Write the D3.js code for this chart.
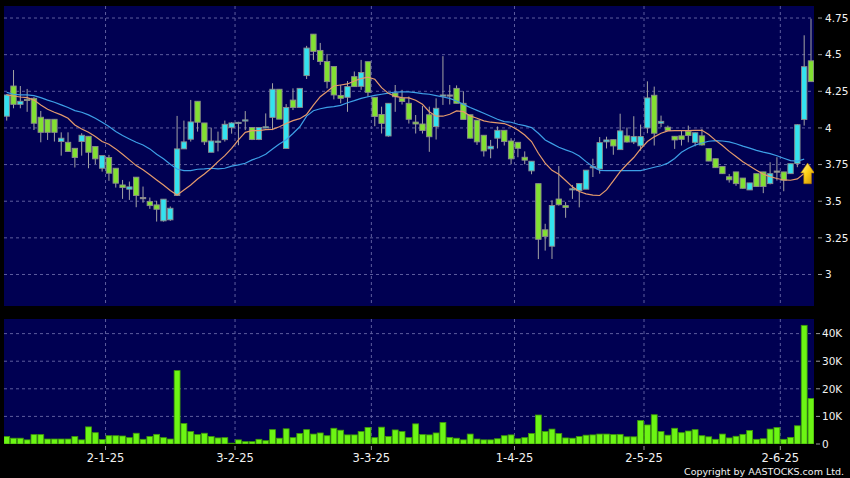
<!DOCTYPE html>
<html><head><meta charset="utf-8">
<script src="https://cdn.jsdelivr.net/npm/d3@7"></script>
<style>html,body{margin:0;padding:0;background:#000;} svg{display:block;}</style>
</head><body>
<div id="chart"></div>
<script>
// ---- data ----
const opens = [4.08,4.286,4.161,4.195,4.202,4.073,4.059,4.059,3.907,3.902,
3.861,3.907,3.943,3.873,3.725,3.798,3.725,3.611,3.582,3.664,
3.525,3.498,3.475,3.366,3.373,3.539,3.857,3.923,4.182,4.034,
3.834,3.905,3.92,4.002,4.035,4.05,4.003,3.921,4.005,4.072,
4.264,3.86,4.19,4.14,4.357,4.64,4.529,4.453,4.419,4.222,
4.209,4.35,4.284,4.452,4.209,4.092,3.945,4.238,4.203,4.168,
4.04,4.027,4.09,4.009,4.22,4.225,4.27,4.168,4.09,4.053,
3.95,3.857,3.93,3.984,3.911,3.902,3.80,3.707,3.62,3.305,
3.193,3.515,3.47,3.58,3.572,3.582,3.736,3.72,3.905,3.92,
3.852,3.946,3.904,3.878,4.0,4.223,4.032,4.005,3.943,3.946,
3.977,3.902,3.946,3.859,3.79,3.737,3.667,3.70,3.658,3.577,
3.688,3.70,3.62,3.706,3.70,3.688,3.758,4.058,4.458];
const highs = [4.23,4.395,4.286,4.266,4.21,4.116,4.06,4.06,3.97,3.97,
3.861,3.964,3.943,3.873,3.811,3.816,3.725,3.645,3.634,3.664,
3.60,3.525,3.502,3.514,3.464,4.082,4.05,4.191,4.182,4.034,
4.002,3.975,4.05,4.039,4.042,4.115,4.003,4.003,4.099,4.305,
4.264,4.163,4.27,4.27,4.56,4.64,4.58,4.505,4.419,4.293,
4.32,4.385,4.464,4.452,4.209,4.145,4.168,4.293,4.26,4.214,
4.088,4.15,4.145,4.202,4.49,4.293,4.29,4.25,4.09,4.053,
3.95,3.918,4.01,3.984,3.93,3.902,3.84,3.773,3.62,3.346,
3.506,3.74,3.494,3.611,3.623,3.712,3.79,3.938,3.94,3.92,
4.097,4.003,4.08,4.023,4.318,4.282,4.084,4.016,3.945,3.982,
4.016,3.97,3.993,3.859,3.79,3.737,3.686,3.70,3.658,3.625,
3.688,3.70,3.766,3.80,3.70,3.756,4.025,4.632,4.745];
const lows = [4.05,4.134,4.134,4.11,3.986,3.902,3.918,3.907,3.811,3.839,
3.73,3.811,3.725,3.752,3.702,3.639,3.593,3.516,3.509,3.459,
3.49,3.448,3.361,3.361,3.366,3.539,3.857,3.907,3.975,3.884,
3.834,3.84,3.907,3.961,3.882,3.985,3.917,3.917,3.997,3.985,
4.06,3.86,4.122,4.14,4.334,4.464,4.43,4.27,4.195,4.168,
4.11,4.28,4.26,4.213,4.012,3.962,3.94,4.11,4.16,4.03,
3.962,3.962,3.837,3.921,4.157,4.16,4.168,4.058,3.928,3.884,
3.805,3.793,3.86,3.88,3.752,3.80,3.752,3.684,3.105,3.163,
3.106,3.47,3.387,3.516,3.458,3.582,3.665,3.688,3.86,3.817,
3.852,3.9,3.89,3.845,3.964,3.88,4.005,3.98,3.857,3.88,
3.902,3.875,3.88,3.773,3.728,3.686,3.627,3.605,3.584,3.577,
3.6,3.555,3.615,3.641,3.568,3.688,3.732,4.016,4.316];
const closes = [4.225,4.161,4.182,4.19,4.032,3.97,3.97,3.97,3.93,3.839,
3.798,3.95,3.834,3.789,3.811,3.691,3.623,3.593,3.598,3.539,
3.525,3.47,3.445,3.514,3.452,3.857,3.905,4.041,4.039,3.905,
3.911,3.91,4.025,4.034,4.038,4.055,3.921,4.003,4.008,4.264,
4.06,4.14,4.14,4.27,4.545,4.522,4.453,4.316,4.225,4.202,
4.282,4.282,4.378,4.243,4.078,4.031,4.168,4.213,4.18,4.059,
4.027,3.982,3.94,4.134,4.225,4.225,4.168,4.058,3.93,3.905,
3.843,3.875,3.984,3.907,3.789,3.861,3.78,3.773,3.24,3.26,
3.471,3.476,3.457,3.585,3.621,3.712,3.736,3.9,3.918,3.877,
3.98,3.904,3.941,3.941,4.205,3.964,4.045,3.982,3.918,3.922,
3.948,3.967,3.884,3.774,3.729,3.688,3.646,3.62,3.588,3.625,
3.6,3.60,3.688,3.706,3.643,3.756,4.022,4.418,4.316];
const volumesK = [2.7,2.1,2.1,1.5,3.4,3.4,1.8,1.8,1.8,1.8,
2.7,1.5,6.2,4.1,1.6,3.0,3.0,2.9,2.3,3.9,
1.7,2.7,3.5,2.3,1.8,26.6,7.4,4.5,3.4,3.9,
2.7,2.2,2.3,0.3,1.5,0.85,0.85,1.7,1.2,5.2,
2.1,5.5,2.3,3.8,5.2,3.6,4.0,3.0,5.7,5.0,
3.3,3.3,4.5,6.0,2.3,6.1,2.7,5.1,4.5,2.3,
7.3,3.4,3.3,4.0,7.8,2.4,2.1,1.5,3.6,1.8,
1.5,1.5,1.9,3.0,3.3,1.9,2.3,3.8,10.5,4.5,
5.4,3.8,2.2,2.1,2.7,3.2,3.3,3.6,3.6,3.4,
3.5,2.6,2.6,8.5,6.9,10.6,4.5,3.2,5.7,4.1,
4.7,5.2,3.0,2.6,1.7,3.6,2.2,2.8,3.5,4.9,
1.7,1.9,5.4,6.0,1.7,2.4,6.6,43.0,16.5];
const ma10 = [4.225,4.218,4.211,4.207,4.19,4.157,4.127,4.107,4.089,4.066,
4.02,3.993,3.97,3.941,3.907,3.889,3.857,3.82,3.782,3.743,
3.714,3.68,3.645,3.611,3.573,3.543,3.577,3.611,3.652,3.686,
3.725,3.77,3.811,3.861,3.918,3.97,3.982,3.982,3.988,3.99,
4.008,4.03,4.05,4.063,4.092,4.156,4.213,4.248,4.286,4.293,
4.3,4.32,4.337,4.346,4.332,4.275,4.236,4.215,4.207,4.205,
4.189,4.161,4.111,4.08,4.08,4.093,4.116,4.111,4.082,4.066,
4.048,4.039,4.034,4.03,4.011,3.986,3.952,3.907,3.827,3.76,
3.711,3.684,3.641,3.598,3.566,3.55,3.541,3.539,3.577,3.639,
3.702,3.752,3.798,3.857,3.907,3.939,3.964,3.98,3.982,3.982,
3.982,3.984,3.984,3.955,3.915,3.88,3.84,3.805,3.77,3.74,
3.712,3.685,3.668,3.655,3.645,3.643,3.652,3.69];
const ma20 = [4.243,4.23,4.225,4.225,4.22,4.207,4.19,4.175,4.157,4.139,
4.118,4.107,4.089,4.066,4.039,4.01,3.975,3.948,3.925,3.902,
3.884,3.857,3.82,3.789,3.752,3.72,3.709,3.709,3.718,3.72,
3.725,3.72,3.725,3.739,3.748,3.759,3.782,3.798,3.82,3.856,
3.89,3.92,3.962,4.008,4.081,4.117,4.131,4.14,4.145,4.154,
4.172,4.186,4.202,4.213,4.222,4.23,4.238,4.245,4.246,4.246,
4.241,4.234,4.23,4.22,4.211,4.202,4.184,4.161,4.139,4.12,
4.1,4.08,4.059,4.043,4.039,4.025,4.016,4.002,3.964,3.918,
3.893,3.868,3.85,3.834,3.809,3.77,3.736,3.711,3.709,3.709,
3.709,3.709,3.709,3.709,3.72,3.732,3.742,3.76,3.791,3.834,
3.862,3.883,3.897,3.909,3.913,3.911,3.905,3.892,3.876,3.862,
3.847,3.835,3.825,3.81,3.793,3.777,3.773,3.787];
const dateTickIndex = [14,33,53,74,93,113];
const dateTickLabels = ["2-1-25","3-2-25","3-3-25","1-4-25","2-5-25","2-6-25"];
const priceTicks = [3,3.25,3.5,3.75,4,4.25,4.5,4.75];
const priceTickLabels = ["3","3.25","3.5","3.75","4","4.25","4.5","4.75"];
const volumeTicks = [0,10,20,30,40];
const volumeTickLabels = ["0","10K","20K","30K","40K"];
const signalIndex = [117.5];
const signalPrice = [3.76];

// ---- layout ----
const W = 850, H = 478;
const PL = 4, PR = 814, PT = 6, PB = 306, VT = 319, VB = 444;
const FONT = "'DejaVu Sans', Verdana, sans-serif";

const svg = d3.select('#chart').append('svg').attr('width', W).attr('height', H);
svg.append('rect').attr('width', W).attr('height', H).attr('fill', '#000');

const defs = svg.append('defs');
defs.append('clipPath').attr('id', 'clipP').append('rect').attr('x', PL).attr('y', PT).attr('width', PR - PL).attr('height', PB - PT);
defs.append('clipPath').attr('id', 'clipV').append('rect').attr('x', PL).attr('y', VT).attr('width', PR - PL).attr('height', VB - VT);
const grad = defs.append('linearGradient').attr('id', 'arrowGrad').attr('x1', '0').attr('y1', '0').attr('x2', '1').attr('y2', '1');
grad.append('stop').attr('offset', '0').attr('stop-color', '#fff6a0');
grad.append('stop').attr('offset', '0.45').attr('stop-color', '#ffd21a');
grad.append('stop').attr('offset', '1').attr('stop-color', '#c98a00');

const N = closes.length;
const x = d3.scaleLinear().domain([0, N - 1]).range([6.7, 811]);
const y = d3.scaleLinear().domain([2.785, 4.832]).range([PB, PT]);
const v = d3.scaleLinear().domain([0, 45.3]).range([VB, VT]);

const NAVY = '#000052';
const GRID = '#5d5d9e';
svg.append('rect').attr('x', PL).attr('y', PT).attr('width', PR - PL).attr('height', PB - PT).attr('fill', NAVY);
svg.append('rect').attr('x', PL).attr('y', VT).attr('width', PR - PL).attr('height', VB - VT).attr('fill', NAVY);

// grid
const gP = svg.append('g').attr('clip-path', 'url(#clipP)');
gP.selectAll('line.h').data(priceTicks).join('line')
  .attr('x1', PL).attr('x2', PR).attr('y1', d => y(d)).attr('y2', d => y(d))
  .attr('stroke', GRID).attr('stroke-width', 1).attr('stroke-dasharray', '3,3');
gP.selectAll('line.v').data(dateTickIndex).join('line')
  .attr('x1', d => x(d + 0.5)).attr('x2', d => x(d + 0.5)).attr('y1', PT).attr('y2', PB)
  .attr('stroke', GRID).attr('stroke-width', 1).attr('stroke-dasharray', '3,3');

const gV = svg.append('g').attr('clip-path', 'url(#clipV)');
gV.selectAll('line.h').data(volumeTicks.filter(d => d > 0)).join('line')
  .attr('x1', PL).attr('x2', PR).attr('y1', d => v(d)).attr('y2', d => v(d))
  .attr('stroke', GRID).attr('stroke-width', 1).attr('stroke-dasharray', '3,3');
gV.selectAll('line.v').data(dateTickIndex).join('line')
  .attr('x1', d => x(d + 0.5)).attr('x2', d => x(d + 0.5)).attr('y1', VT).attr('y2', VB)
  .attr('stroke', GRID).attr('stroke-width', 1).attr('stroke-dasharray', '3,3');

// candles
const idx = d3.range(N);
const UP = '#33e2ef', DOWN = '#82e032', FLAT = '#b0b0b0';
const colorOf = i => closes[i] > opens[i] ? UP : (closes[i] < opens[i] ? DOWN : FLAT);
const gc = gP.append('g');
gc.selectAll('line.wick').data(idx).join('line')
  .attr('x1', i => x(i)).attr('x2', i => x(i))
  .attr('y1', i => y(highs[i])).attr('y2', i => y(lows[i]))
  .attr('stroke', '#a3a3a3').attr('stroke-width', 1);
const BW = 5.4;
gc.selectAll('rect.body').data(idx).join('rect')
  .attr('x', i => x(i) - BW / 2).attr('width', BW)
  .attr('y', i => y(Math.max(opens[i], closes[i])))
  .attr('height', i => Math.max(1.2, Math.abs(y(opens[i]) - y(closes[i]))))
  .attr('fill', colorOf)
  .attr('stroke', '#8c8c8c').attr('stroke-width', 0.9);

// moving averages
const line = d3.line().x((d, i) => x(i)).y(d => y(d)).curve(d3.curveLinear);
gP.append('path').datum(ma20).attr('d', line).attr('fill', 'none').attr('stroke', '#3d9fe6').attr('stroke-width', 1.2);
gP.append('path').datum(ma10).attr('d', line).attr('fill', 'none').attr('stroke', '#e49a6c').attr('stroke-width', 1.2);

// signal arrow
signalIndex.forEach((si, k) => {
  const tx = x(si), ty = y(signalPrice[k]);
  const p = d3.path();
  p.moveTo(tx, ty); p.lineTo(tx + 6.8, ty + 9.8); p.lineTo(tx + 3.8, ty + 9.8);
  p.lineTo(tx + 3.8, ty + 20.6); p.lineTo(tx - 3.8, ty + 20.6); p.lineTo(tx - 3.8, ty + 9.8);
  p.lineTo(tx - 6.8, ty + 9.8); p.closePath();
  gP.append('path').attr('d', p.toString()).attr('fill', 'url(#arrowGrad)').attr('stroke', '#b07800').attr('stroke-width', 0.6);
});

// volume bars
const VWid = 5.9;
gV.selectAll('rect.vol').data(idx).join('rect')
  .attr('x', i => x(i) - VWid / 2).attr('width', VWid)
  .attr('y', i => v(volumesK[i])).attr('height', i => v(0) - v(volumesK[i]))
  .attr('fill', '#6cf514').attr('stroke', '#3f9a08').attr('stroke-width', 0.8);

// right axes
const TXT = '#f2f2f2';
const yAx = svg.append('g');
yAx.selectAll('line').data(priceTicks).join('line')
  .attr('x1', 818).attr('x2', 822).attr('y1', d => y(d)).attr('y2', d => y(d))
  .attr('stroke', '#9a9a9a').attr('stroke-width', 1);
yAx.selectAll('text').data(priceTicks).join('text')
  .attr('x', 825).attr('y', d => y(d)).attr('dy', '0.36em')
  .attr('fill', TXT).attr('font-family', FONT).attr('font-size', 10.5)
  .text((d, i) => priceTickLabels[i]);

const vAx = svg.append('g');
vAx.selectAll('line').data(volumeTicks).join('line')
  .attr('x1', 816).attr('x2', 820).attr('y1', d => v(d)).attr('y2', d => v(d))
  .attr('stroke', '#9a9a9a').attr('stroke-width', 1);
vAx.selectAll('text').data(volumeTicks).join('text')
  .attr('x', 822).attr('y', d => v(d)).attr('dy', '0.36em')
  .attr('fill', TXT).attr('font-family', FONT).attr('font-size', 10.5)
  .text((d, i) => volumeTickLabels[i]);

// date axis
const dAx = svg.append('g');
dAx.selectAll('line').data(dateTickIndex).join('line')
  .attr('x1', d => x(d + 0.5)).attr('x2', d => x(d + 0.5)).attr('y1', VB + 2).attr('y2', VB + 6)
  .attr('stroke', '#9a9a9a').attr('stroke-width', 1);
dAx.selectAll('text').data(dateTickIndex).join('text')
  .attr('x', d => x(d + 0.5)).attr('y', 461.5).attr('text-anchor', 'middle')
  .attr('fill', TXT).attr('font-family', FONT).attr('font-size', 11.5)
  .text((d, i) => dateTickLabels[i]);

svg.append('text').attr('x', 844).attr('y', 475).attr('text-anchor', 'end')
  .attr('fill', TXT).attr('font-family', FONT).attr('font-size', 9.5)
  .text('Copyright by AASTOCKS.com Ltd.');
</script>
</body></html>
